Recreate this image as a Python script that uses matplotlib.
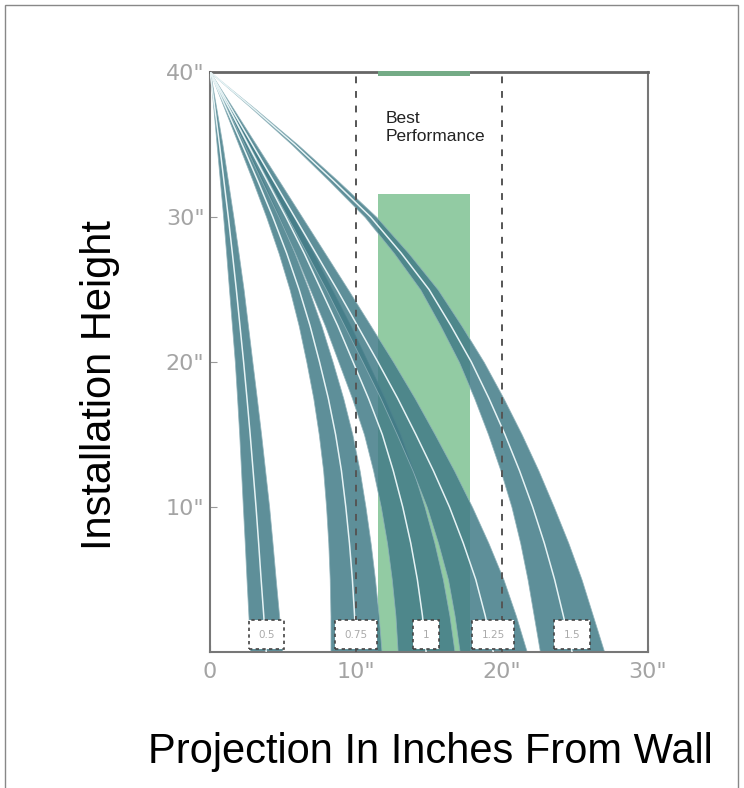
import matplotlib
matplotlib.use("Agg")
import matplotlib.pyplot as plt
from matplotlib.patches import Rectangle
import numpy as np

# height levels (inches) at which the spray curves were read
heights = [40, 37.5, 35, 32.5, 30, 27.5, 25, 22.5, 20, 17.5, 15, 12.5, 10, 7.5, 5, 2.5, 0]

nozzles = ["0.5", "0.75", "1", "1.25", "1.5"]

# centre line of each spray (projection from wall at each height)
center_05 = [0, 0.33, 0.65, 0.95, 1.25, 1.53, 1.8, 2.05, 2.3, 2.53, 2.75, 2.95, 3.15, 3.33, 3.5, 3.68, 3.85]
center_075 = [0, 1.1, 2.2, 3.27, 4.3, 5.25, 6.1, 6.85, 7.5, 8.1, 8.6, 9.0, 9.3, 9.55, 9.75, 9.9, 10.0]
center_1 = [0, 1.3, 2.6, 3.9, 5.2, 6.45, 7.6, 8.75, 9.8, 10.85, 11.8, 12.55, 13.2, 13.75, 14.2, 14.55, 14.8]
center_125 = [0, 1.45, 2.9, 4.35, 5.8, 7.25, 8.7, 10.1, 11.5, 12.85, 14.1, 15.3, 16.4, 17.35, 18.2, 18.85, 19.4]
center_15 = [0, 2.95, 5.8, 8.45, 11.0, 13.1, 15.0, 16.5, 17.9, 19.1, 20.2, 21.2, 22.1, 22.9, 23.6, 24.2, 24.8]

# spread (band width) of each spray at each height
width_05 = [0, 0.2, 0.4, 0.55, 0.7, 0.85, 1.0, 1.1, 1.2, 1.35, 1.5, 1.65, 1.8, 1.9, 2.0, 2.1, 2.2]
width_075 = [0, 0.25, 0.5, 0.7, 0.9, 1.1, 1.3, 1.55, 1.8, 2.05, 2.3, 2.5, 2.7, 2.9, 3.1, 3.3, 3.5]
width_1 = [0, 0.25, 0.5, 0.75, 1.0, 1.25, 1.5, 1.75, 2.0, 2.25, 2.5, 2.75, 3.0, 3.25, 3.5, 3.7, 3.9]
width_125 = [0, 0.25, 0.5, 0.75, 1.0, 1.25, 1.5, 1.8, 2.1, 2.35, 2.6, 2.85, 3.1, 3.45, 3.8, 4.2, 4.6]
width_15 = [0, 0.2, 0.4, 0.6, 0.8, 1.0, 1.2, 1.45, 1.7, 2.0, 2.3, 2.6, 2.9, 3.3, 3.7, 4.05, 4.4]

centers = [center_05, center_075, center_1, center_125, center_15]
widths = [width_05, width_075, width_1, width_125, width_15]

best_zone = (11.5, 17.8)
best_top = 31.6
guide_x = [10, 20]

fig = plt.figure(figsize=(7.44, 7.88), dpi=100)
ax = fig.add_axes([0.2823, 0.1726, 0.5887, 0.736])

# ── best performance zone ────────────────────────────────────────────────
ax.add_patch(Rectangle((best_zone[0], 0), best_zone[1] - best_zone[0], best_top,
                       facecolor="#92cba3", edgecolor="none", zorder=1))
ax.add_patch(Rectangle((best_zone[0], 39.75), best_zone[1] - best_zone[0], 0.35,
                       facecolor="#74ab86", edgecolor="none", zorder=6, clip_on=False))
ax.text(best_zone[0] + 0.5, 37.3, "Best\nPerformance", fontsize=12.5, color="#222222",
        va="top", ha="left", linespacing=1.25, family="Liberation Sans", zorder=7)

# ── spray bands ──────────────────────────────────────────────────────────
y = np.array(heights, dtype=float)
for c, w in zip(centers, widths):
    c = np.array(c); w = np.array(w)
    ax.fill_betweenx(y, c - w / 2, c + w / 2, facecolor="#427b87", alpha=0.85,
                     edgecolor="#8fb2ba", lw=0.6, zorder=2)
    ax.plot(c, y, color="#e6f3f5", lw=1.1, zorder=3, solid_capstyle="butt")

for gx in guide_x:
    ax.axvline(gx, color="#555555", lw=1.4, ls=(0, (3.5, 4)), zorder=4)

# ── nozzle labels ────────────────────────────────────────────────────────
for name, c in zip(nozzles, centers):
    ax.text(c[-1], 1.2, name, fontsize=7.5, color="#aaaaaa", ha="center", va="center",
            zorder=8,
            bbox=dict(boxstyle="square,pad=0.9", facecolor="white", edgecolor="#444444",
                      lw=1.2, ls=(0, (2, 2))))

ax.set_xlim(0, 30)
ax.set_ylim(0, 40)
ax.set_xticks([0, 10, 20, 30])
ax.set_xticklabels(["0", '10"', '20"', '30"'])
ax.set_yticks([10, 20, 30, 40])
ax.set_yticklabels(['10"', '20"', '30"', '40"'])
ax.tick_params(axis="both", direction="in", length=5, color="#999999",
               labelcolor="#a4a4a4", labelsize=16, pad=7)
ax.tick_params(axis="y", pad=4)
for lbl in ax.get_xticklabels() + ax.get_yticklabels():
    lbl.set_family("DejaVu Sans")
for s in ax.spines.values():
    s.set_color("#777777")
    s.set_linewidth(1.5)
ax.spines["top"].set_color("#666666")
ax.spines["top"].set_linewidth(2)

fig.text(0.134, 0.511, "Installation Height", rotation=90, fontsize=30,
         ha="center", va="center", family="Liberation Sans")
fig.text(0.578, 0.046, "Projection In Inches From Wall", fontsize=30,
         ha="center", va="center", family="Liberation Sans")

fig.patches.append(Rectangle((0.007, -0.01), 0.985, 1.004, transform=fig.transFigure,
                             facecolor="none", edgecolor="#888888", lw=1))

fig.savefig("out.png", dpi=100)
